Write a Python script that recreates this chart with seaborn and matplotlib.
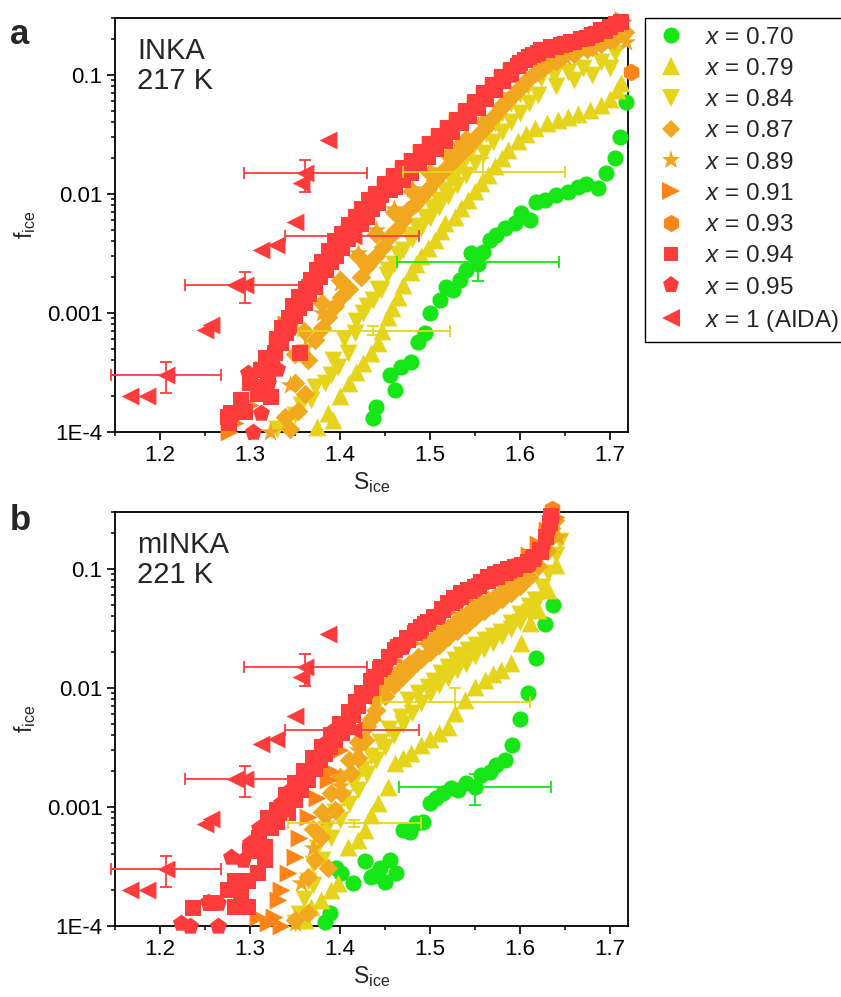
import numpy as np
import pandas as pd
import matplotlib
matplotlib.use("Agg")
import matplotlib.pyplot as plt
from matplotlib.lines import Line2D
from matplotlib.ticker import (LogLocator, MultipleLocator, FixedLocator,
                               FixedFormatter, NullFormatter)
import seaborn as sns

# ---------------------------------------------------------------- series
series = ["0.70", "0.79", "0.84", "0.87", "0.89", "0.91", "0.93", "0.94", "0.95", "1 (AIDA)"]

# ---------------------------------------------------------------- panel a (INKA, 217 K)
s70_a = [1.437, 1.440, 1.461, 1.456, 1.468, 1.479, 1.487, 1.494, 1.500, 1.511, 1.518, 1.526,
         1.533, 1.540, 1.546, 1.553, 1.559, 1.567, 1.573, 1.583, 1.594, 1.601, 1.611, 1.618,
         1.628, 1.640, 1.653, 1.664, 1.673, 1.687, 1.696, 1.706, 1.711, 1.718]
f70_a = [1.31e-4, 1.62e-4, 2.25e-4, 3.0e-4, 3.5e-4, 3.9e-4, 5.7e-4, 6.8e-4, 1.0e-3, 1.29e-3,
         1.65e-3, 1.56e-3, 1.9e-3, 2.3e-3, 3.2e-3, 2.6e-3, 3.25e-3, 4.1e-3, 4.5e-3, 5.2e-3,
         5.7e-3, 6.9e-3, 6.0e-3, 8.6e-3, 8.9e-3, 9.8e-3, 1.04e-2, 1.15e-2, 1.2e-2, 1.12e-2,
         1.5e-2, 2.0e-2, 3.0e-2, 5.9e-2]

s79_a = [1.375, 1.387, 1.392, 1.400, 1.410, 1.418, 1.426, 1.434, 1.442, 1.447, 1.453, 1.458,
         1.464, 1.470, 1.479, 1.484, 1.490, 1.498, 1.506, 1.512, 1.517, 1.528, 1.535, 1.542,
         1.550, 1.557, 1.565, 1.572, 1.580, 1.587, 1.598, 1.607, 1.617, 1.630, 1.642, 1.653,
         1.665, 1.678, 1.690, 1.700, 1.708, 1.712]
f79_a = [1.1e-4, 1.44e-4, 1.26e-4, 2.0e-4, 2.6e-4, 3.2e-4, 3.8e-4, 4.6e-4, 5.6e-4, 7.0e-4,
         9.2e-4, 1.1e-3, 1.37e-3, 1.7e-3, 2.2e-3, 2.6e-3, 3.0e-3, 3.5e-3, 4.1e-3, 4.9e-3,
         5.7e-3, 6.4e-3, 7.6e-3, 8.9e-3, 1.05e-2, 1.24e-2, 1.45e-2, 1.7e-2, 2.0e-2, 2.34e-2,
         2.8e-2, 3.2e-2, 3.6e-2, 3.9e-2, 4.2e-2, 4.4e-2, 4.7e-2, 5.1e-2, 5.6e-2, 6.3e-2,
         7.4e-2, 8.6e-2]

s84_a = [1.330, 1.340, 1.357, 1.368, 1.383, 1.390, 1.398, 1.409, 1.417, 1.426, 1.437, 1.446,
         1.453, 1.464, 1.476, 1.485, 1.494, 1.502, 1.509, 1.516, 1.523, 1.531, 1.539, 1.546,
         1.553, 1.562, 1.572, 1.580, 1.590, 1.600, 1.609, 1.623, 1.638, 1.653, 1.670, 1.690,
         1.706,
         1.350, 1.372, 1.392, 1.405, 1.418, 1.430, 1.442, 1.452, 1.460, 1.470, 1.480, 1.490,
         1.500, 1.510, 1.520, 1.530, 1.540, 1.550, 1.560, 1.570, 1.580, 1.590, 1.600, 1.610,
         1.620, 1.640, 1.660, 1.680, 1.700]
f84_a = [1.05e-4, 1.2e-4, 1.7e-4, 1.86e-4, 2.6e-4, 3.0e-4, 3.5e-4, 4.6e-4, 6.8e-4, 1.0e-3,
         1.29e-3, 1.56e-3, 2.3e-3, 3.1e-3, 4.5e-3, 5.4e-3, 6.4e-3, 7.6e-3, 8.9e-3, 1.08e-2,
         1.31e-2, 1.6e-2, 1.93e-2, 2.3e-2, 2.7e-2, 3.2e-2, 3.9e-2, 4.8e-2, 5.8e-2, 6.9e-2,
         8.0e-2, 9.4e-2, 1.0e-1, 1.05e-1, 1.15e-1, 1.28e-1, 1.53e-1,
         1.4e-4, 2.4e-4, 4.0e-4, 6.0e-4, 8.5e-4, 1.15e-3, 1.6e-3, 2.1e-3, 2.6e-3, 3.4e-3,
         4.2e-3, 5.2e-3, 6.3e-3, 7.7e-3, 9.5e-3, 1.18e-2, 1.45e-2, 1.8e-2, 2.2e-2, 2.7e-2,
         3.3e-2, 4.0e-2, 4.8e-2, 5.8e-2, 6.8e-2, 8.0e-2, 9.0e-2, 1.0e-1, 1.15e-1]

s87_a = [1.339, 1.345, 1.350, 1.353, 1.361, 1.364, 1.372, 1.380, 1.387, 1.395, 1.401, 1.410,
         1.423, 1.430, 1.440, 1.448, 1.455, 1.462, 1.470, 1.476, 1.483, 1.490, 1.498, 1.506,
         1.515, 1.523, 1.532, 1.542, 1.551, 1.561, 1.570, 1.579, 1.588, 1.598, 1.607, 1.617,
         1.624, 1.631, 1.646, 1.661, 1.675, 1.690, 1.705, 1.717,
         1.350, 1.360, 1.380, 1.400, 1.420, 1.440, 1.460, 1.480, 1.500, 1.520, 1.540, 1.560,
         1.580, 1.600, 1.620, 1.640, 1.660, 1.680, 1.700]
f87_a = [1.34e-4, 1.05e-4, 2.6e-4, 1.5e-4, 2.1e-4, 4.0e-4, 5.9e-4, 7.5e-4, 9.2e-4, 1.15e-3,
         1.37e-3, 1.6e-3, 2.0e-3, 2.5e-3, 3.0e-3, 3.6e-3, 4.3e-3, 5.0e-3, 6.0e-3, 7.3e-3,
         8.2e-3, 9.4e-3, 1.1e-2, 1.31e-2, 1.55e-2, 1.8e-2, 2.1e-2, 2.5e-2, 3.0e-2, 3.6e-2,
         4.4e-2, 5.3e-2, 6.3e-2, 7.5e-2, 8.9e-2, 1.04e-1, 1.13e-1, 1.22e-1, 1.38e-1, 1.53e-1,
         1.65e-1, 1.8e-1, 2.0e-1, 2.3e-1,
         4.5e-4, 7.0e-4, 1.2e-3, 1.9e-3, 3.0e-3, 4.6e-3, 7.0e-3, 1.05e-2, 1.5e-2, 2.1e-2,
         2.9e-2, 4.0e-2, 5.6e-2, 7.8e-2, 1.05e-1, 1.3e-1, 1.5e-1, 1.7e-1, 1.95e-1]

s89_a = [1.322, 1.345, 1.361, 1.380, 1.400, 1.420, 1.440, 1.460, 1.480, 1.500, 1.530, 1.560,
         1.590, 1.620, 1.650, 1.680, 1.700, 1.718]
f89_a = [1.0e-4, 2.5e-4, 5.2e-4, 1.0e-3, 1.8e-3, 3.2e-3, 5.0e-3, 7.5e-3, 1.1e-2, 1.6e-2,
         2.6e-2, 4.2e-2, 6.8e-2, 1.05e-1, 1.4e-1, 1.7e-1, 1.9e-1, 1.9e-1]

s91_a = [1.277, 1.283, 1.300, 1.315, 1.330, 1.340, 1.350, 1.360, 1.370, 1.380, 1.390, 1.400,
         1.410, 1.420, 1.430, 1.440, 1.450, 1.460, 1.470, 1.480, 1.490, 1.500, 1.510, 1.520,
         1.530, 1.540, 1.550, 1.560, 1.570, 1.580, 1.590, 1.600, 1.620, 1.640, 1.660, 1.680,
         1.700, 1.714]
f91_a = [1.0e-4, 1.2e-4, 1.7e-4, 3.4e-4, 5.5e-4, 8.0e-4, 1.0e-3, 1.3e-3, 1.8e-3, 2.3e-3,
         3.0e-3, 3.8e-3, 4.8e-3, 6.0e-3, 7.5e-3, 9.2e-3, 1.15e-2, 1.35e-2, 1.6e-2, 1.9e-2,
         2.2e-2, 2.6e-2, 3.0e-2, 3.5e-2, 4.1e-2, 4.8e-2, 5.6e-2, 6.6e-2, 7.8e-2, 9.0e-2,
         1.05e-1, 1.2e-1, 1.45e-1, 1.7e-1, 1.9e-1, 2.1e-1, 2.4e-1, 2.9e-1]

s93_a = [1.723]
f93_a = [0.105]

s94_a = [1.276, 1.277, 1.279, 1.290, 1.294, 1.309, 1.315, 1.320, 1.323, 1.325, 1.328, 1.334,
         1.340, 1.345, 1.350, 1.355, 1.356, 1.361, 1.366, 1.372, 1.378, 1.385, 1.390, 1.396,
         1.402, 1.409, 1.416, 1.423, 1.430, 1.436, 1.442, 1.446, 1.456, 1.461, 1.470, 1.479,
         1.488, 1.498, 1.507, 1.517, 1.525, 1.534, 1.543, 1.553, 1.562, 1.572, 1.581, 1.590,
         1.598, 1.606, 1.615, 1.623, 1.635, 1.646, 1.657, 1.668, 1.680, 1.690, 1.700, 1.707,
         1.712,
         1.300, 1.312, 1.318, 1.330, 1.336, 1.343, 1.348, 1.355, 1.362, 1.368, 1.374, 1.380,
         1.388, 1.395, 1.402, 1.410, 1.418, 1.425, 1.432, 1.440, 1.450, 1.460, 1.470, 1.480,
         1.490, 1.500, 1.510, 1.520, 1.530, 1.540, 1.550, 1.560, 1.570, 1.580, 1.590, 1.600,
         1.610, 1.620, 1.630, 1.640, 1.650, 1.660, 1.675, 1.685, 1.695]
f94_a = [1.34e-4, 1.2e-4, 1.44e-4, 1.86e-4, 1.47e-4, 2.1e-4, 2.4e-4, 3.0e-4, 1.96e-4, 3.6e-4,
         4.6e-4, 5.6e-4, 6.8e-4, 8.2e-4, 9.5e-4, 1.1e-3, 4.6e-4, 1.2e-3, 1.45e-3, 1.65e-3,
         2.0e-3, 2.3e-3, 2.7e-3, 3.0e-3, 3.5e-3, 4.2e-3, 4.8e-3, 5.6e-3, 6.4e-3, 7.4e-3,
         8.4e-3, 9.8e-3, 1.08e-2, 1.14e-2, 1.3e-2, 1.5e-2, 1.75e-2, 2.04e-2, 2.4e-2, 2.8e-2,
         3.3e-2, 3.9e-2, 4.5e-2, 5.3e-2, 6.2e-2, 7.5e-2, 8.8e-2, 1.04e-1, 1.18e-1, 1.34e-1,
         1.46e-1, 1.6e-1, 1.7e-1, 1.78e-1, 1.9e-1, 2.0e-1, 2.15e-1, 2.36e-1, 2.5e-1, 2.65e-1,
         2.79e-1,
         2.6e-4, 3.3e-4, 4.2e-4, 6.0e-4, 7.5e-4, 9.0e-4, 1.15e-3, 1.35e-3, 1.6e-3, 1.9e-3,
         2.3e-3, 2.7e-3, 3.3e-3, 4.0e-3, 4.6e-3, 5.5e-3, 6.4e-3, 7.5e-3, 8.8e-3, 1.0e-2,
         1.2e-2, 1.4e-2, 1.65e-2, 1.9e-2, 2.25e-2, 2.6e-2, 3.05e-2, 3.6e-2, 4.2e-2, 5.0e-2,
         5.9e-2, 7.0e-2, 8.2e-2, 9.6e-2, 1.1e-1, 1.25e-1, 1.4e-1, 1.52e-1, 1.62e-1, 1.7e-1,
         1.8e-1, 1.9e-1, 2.05e-1, 2.2e-1, 2.35e-1]

s95_a = [1.303, 1.312, 1.298, 1.320, 1.330, 1.345, 1.360, 1.375, 1.390, 1.410, 1.430, 1.450,
         1.470, 1.500, 1.530, 1.560, 1.590, 1.620, 1.650, 1.680, 1.700]
f95_a = [1.0e-4, 1.44e-4, 3.1e-4, 2.6e-4, 3.4e-4, 7.5e-4, 1.3e-3, 2.1e-3, 3.2e-3, 5.0e-3,
         7.8e-3, 1.15e-2, 1.6e-2, 2.5e-2, 4.0e-2, 6.5e-2, 1.0e-1, 1.5e-1, 1.85e-1, 2.2e-1,
         2.6e-1]

# AIDA chamber reference points (same in both panels)
s_aida = [1.387, 1.361, 1.357, 1.350, 1.329, 1.312, 1.414, 1.283, 1.294, 1.250, 1.257,
          1.207, 1.167, 1.186]
f_aida = [2.84e-2, 1.5e-2, 1.23e-2, 5.8e-3, 3.7e-3, 3.4e-3, 4.4e-3, 1.72e-3, 1.72e-3,
          7.2e-4, 7.9e-4, 3.0e-4, 2.0e-4, 2.0e-4]

# error bars: series, centre, x-range (lo, hi), y-range (lo, hi)
eb_series_a = ["0.70", "0.79", "0.84", "1 (AIDA)", "1 (AIDA)", "1 (AIDA)", "1 (AIDA)"]
eb_S_a = [1.553, 1.437, 1.559, 1.361, 1.414, 1.294, 1.207]
eb_f_a = [2.7e-3, 7.1e-4, 1.53e-2, 1.5e-2, 4.4e-3, 1.72e-3, 3.0e-4]
eb_dSlo_a = [0.090, 0.084, 0.089, 0.068, 0.075, 0.066, 0.061]
eb_dShi_a = [0.090, 0.085, 0.091, 0.069, 0.074, 0.064, 0.061]
eb_dflo_a = [8.4e-4, 6.0e-5, 4.5e-3, 4.6e-3, 3.0e-4, 5.1e-4, 8.7e-5]
eb_dfhi_a = [5.0e-4, 6.0e-5, 4.8e-3, 4.3e-3, 3.0e-4, 4.8e-4, 9.0e-5]

# ---------------------------------------------------------------- panel b (mINKA, 221 K)
s70_b = [1.383, 1.389, 1.396, 1.401, 1.414, 1.428, 1.434, 1.439, 1.444, 1.450, 1.456, 1.462,
         1.470, 1.478, 1.484, 1.492, 1.500, 1.507, 1.514, 1.523, 1.531, 1.540, 1.550, 1.557,
         1.567, 1.573, 1.583, 1.591, 1.600, 1.609, 1.618, 1.628, 1.637]
f70_b = [1.08e-4, 1.29e-4, 3.1e-4, 2.8e-4, 2.3e-4, 3.5e-4, 2.6e-4, 2.7e-4, 3.1e-4, 2.35e-4,
         3.6e-4, 2.8e-4, 6.4e-4, 6.1e-4, 7.3e-4, 7.5e-4, 1.08e-3, 1.2e-3, 1.31e-3, 1.44e-3,
         1.38e-3, 1.6e-3, 1.47e-3, 1.85e-3, 1.98e-3, 2.25e-3, 2.5e-3, 3.3e-3, 5.5e-3, 9.1e-3,
         1.78e-2, 3.46e-2, 4.98e-2]

s79_b = [1.361, 1.368, 1.379, 1.390, 1.398, 1.409, 1.420, 1.428, 1.434, 1.442, 1.453, 1.461,
         1.470, 1.479, 1.490, 1.500, 1.510, 1.520, 1.528, 1.539, 1.550, 1.561, 1.570, 1.579,
         1.590, 1.601, 1.611, 1.620, 1.631, 1.640]
f79_b = [1.12e-4, 1.44e-4, 1.65e-4, 2.0e-4, 2.3e-4, 4.6e-4, 5.3e-4, 6.4e-4, 8.5e-4, 1.08e-3,
         1.47e-3, 2.35e-3, 2.6e-3, 2.85e-3, 3.3e-3, 3.7e-3, 4.2e-3, 4.7e-3, 6.2e-3, 7.9e-3,
         1.01e-2, 1.17e-2, 1.3e-2, 1.41e-2, 1.62e-2, 2.39e-2, 3.51e-2, 4.53e-2, 6.67e-2, 1.08e-1]

s84_b = [1.350, 1.355, 1.360, 1.365, 1.370, 1.375, 1.385, 1.395, 1.405, 1.415, 1.425, 1.435,
         1.445, 1.455, 1.468, 1.476, 1.487, 1.498, 1.505, 1.512, 1.520, 1.528, 1.535, 1.542,
         1.551, 1.561, 1.570, 1.579, 1.590, 1.600, 1.610, 1.617, 1.625, 1.631, 1.640, 1.645,
         1.360, 1.370, 1.380, 1.390, 1.400, 1.410, 1.420, 1.430, 1.440, 1.450, 1.460, 1.470,
         1.480, 1.490, 1.500, 1.510, 1.520, 1.530, 1.540, 1.550, 1.560, 1.570, 1.580, 1.590,
         1.600, 1.610, 1.620]
f84_b = [1.05e-4, 1.25e-4, 1.7e-4, 2.4e-4, 3.3e-4, 4.5e-4, 6.5e-4, 9.0e-4, 1.2e-3, 1.6e-3,
         2.1e-3, 2.7e-3, 3.5e-3, 4.5e-3, 5.7e-3, 7.9e-3, 9.0e-3, 1.02e-2, 1.15e-2, 1.34e-2,
         1.5e-2, 1.72e-2, 1.9e-2, 2.09e-2, 2.3e-2, 2.51e-2, 2.75e-2, 2.96e-2, 3.5e-2, 4.2e-2,
         4.9e-2, 5.51e-2, 7.0e-2, 9.26e-2, 1.3e-1, 1.7e-1,
         1.1e-4, 2.2e-4, 3.6e-4, 5.5e-4, 7.8e-4, 1.05e-3, 1.4e-3, 1.9e-3, 2.5e-3, 3.2e-3,
         4.0e-3, 5.0e-3, 6.2e-3, 7.5e-3, 8.8e-3, 1.05e-2, 1.2e-2, 1.4e-2, 1.6e-2, 1.85e-2,
         2.1e-2, 2.4e-2, 2.7e-2, 3.1e-2, 3.6e-2, 4.3e-2, 5.5e-2]

s87_b = [1.350, 1.364, 1.364, 1.372, 1.387, 1.379, 1.394, 1.401, 1.412, 1.420, 1.428, 1.435,
         1.439, 1.446, 1.453, 1.460, 1.468, 1.477, 1.487, 1.498, 1.505, 1.512, 1.520, 1.528,
         1.535, 1.542, 1.550, 1.557, 1.565, 1.572, 1.580, 1.587, 1.594, 1.601, 1.607, 1.612,
         1.618, 1.623, 1.627, 1.631, 1.635, 1.639,
         1.370, 1.380, 1.390, 1.400, 1.410, 1.420, 1.430, 1.440, 1.450, 1.460, 1.470, 1.480,
         1.490, 1.500, 1.510, 1.520, 1.530, 1.540, 1.550, 1.560, 1.570, 1.580, 1.590, 1.600,
         1.610, 1.620, 1.630]
f87_b = [1.12e-4, 1.29e-4, 2.6e-4, 3.6e-4, 3.1e-4, 5.6e-4, 9.4e-4, 1.31e-3, 1.94e-3, 2.6e-3,
         3.66e-3, 5.5e-3, 7.9e-3, 9.0e-3, 1.1e-2, 1.25e-2, 1.41e-2, 1.6e-2, 1.83e-2, 2.39e-2,
         2.6e-2, 2.89e-2, 3.2e-2, 3.51e-2, 3.9e-2, 4.25e-2, 4.7e-2, 5.2e-2, 5.5e-2, 5.8e-2,
         6.4e-2, 7.1e-2, 7.8e-2, 8.6e-2, 9.8e-2, 1.13e-1, 1.28e-1, 1.45e-1, 1.65e-1, 1.86e-1,
         2.2e-1, 2.58e-1,
         6.5e-4, 9.0e-4, 1.3e-3, 1.8e-3, 2.5e-3, 3.5e-3, 4.8e-3, 6.5e-3, 8.5e-3, 1.05e-2,
         1.25e-2, 1.5e-2, 1.75e-2, 2.0e-2, 2.3e-2, 2.65e-2, 3.0e-2, 3.4e-2, 3.9e-2, 4.4e-2,
         5.0e-2, 5.6e-2, 6.3e-2, 7.2e-2, 8.5e-2, 1.05e-1, 1.4e-1]

s89_b = [1.350, 1.357, 1.370, 1.385, 1.400, 1.420, 1.440, 1.460, 1.480, 1.500, 1.520, 1.540,
         1.560, 1.580, 1.600, 1.620, 1.642]
f89_b = [1.05e-4, 2.3e-4, 4.5e-4, 8.0e-4, 1.5e-3, 3.0e-3, 6.0e-3, 1.1e-2, 1.6e-2, 2.3e-2,
         3.0e-2, 3.8e-2, 4.8e-2, 6.0e-2, 8.0e-2, 1.2e-1, 1.86e-1]

s91_b = [1.309, 1.320, 1.327, 1.331, 1.334, 1.335, 1.342, 1.350, 1.355, 1.364, 1.375, 1.387,
         1.390, 1.400, 1.410, 1.420, 1.430, 1.440, 1.460, 1.480, 1.500, 1.520, 1.540, 1.560,
         1.580, 1.600, 1.610, 1.620, 1.630, 1.640]
f91_b = [1.19e-4, 1.05e-4, 1.19e-4, 1.65e-4, 1.0e-4, 2.0e-4, 2.8e-4, 3.8e-4, 5.5e-4, 8.2e-4,
         1.2e-3, 1.69e-3, 2.0e-3, 3.0e-3, 4.5e-3, 6.5e-3, 8.5e-3, 1.1e-2, 1.7e-2, 2.4e-2,
         3.3e-2, 4.3e-2, 5.5e-2, 7.0e-2, 8.5e-2, 1.05e-1, 1.3e-1, 1.6e-1, 2.1e-1, 2.7e-1]

s93_b = [1.636]
f93_b = [0.32]

s94_b = [1.237, 1.257, 1.276, 1.283, 1.283, 1.290, 1.298, 1.298, 1.309, 1.317, 1.317, 1.323,
         1.330, 1.342, 1.350, 1.357, 1.364, 1.372, 1.378, 1.383, 1.389, 1.394, 1.402, 1.409,
         1.415, 1.420, 1.427, 1.434, 1.440, 1.446, 1.454, 1.461, 1.468, 1.476, 1.483, 1.490,
         1.498, 1.506, 1.513, 1.520, 1.527, 1.534, 1.542, 1.550, 1.557, 1.564, 1.572, 1.579,
         1.587, 1.594, 1.602, 1.609, 1.616, 1.623, 1.629, 1.633, 1.634,
         1.300, 1.310, 1.320, 1.330, 1.340, 1.350, 1.360, 1.370, 1.380, 1.390, 1.400, 1.410,
         1.418, 1.425, 1.435, 1.445, 1.455, 1.465, 1.475, 1.485, 1.495, 1.505, 1.515, 1.525,
         1.535, 1.545, 1.555, 1.565, 1.575, 1.585, 1.595, 1.605, 1.615, 1.622]
f94_b = [1.42e-4, 1.56e-4, 2.0e-4, 1.44e-4, 2.4e-4, 1.75e-4, 2.4e-4, 1.44e-4, 2.8e-4, 3.6e-4,
         4.6e-4, 6.6e-4, 7.5e-4, 8.9e-4, 1.14e-3, 1.4e-3, 1.69e-3, 2.1e-3, 2.5e-3, 2.8e-3,
         3.2e-3, 3.66e-3, 4.2e-3, 4.7e-3, 5.9e-3, 7.0e-3, 8.5e-3, 1.0e-2, 1.23e-2, 1.5e-2,
         1.8e-2, 2.09e-2, 2.3e-2, 2.5e-2, 2.9e-2, 3.26e-2, 3.6e-2, 3.96e-2, 4.6e-2, 5.2e-2,
         5.7e-2, 6.28e-2, 6.6e-2, 7.05e-2, 7.8e-2, 8.55e-2, 9.0e-2, 9.45e-2, 1.0e-1, 1.04e-1,
         1.08e-1, 1.14e-1, 1.25e-1, 1.37e-1, 1.86e-1, 2.4e-1, 2.8e-1,
         4.3e-4, 5.5e-4, 8.0e-4, 9.5e-4, 1.25e-3, 1.6e-3, 2.0e-3, 2.6e-3, 3.2e-3, 4.0e-3,
         5.0e-3, 6.3e-3, 7.6e-3, 9.0e-3, 1.15e-2, 1.45e-2, 1.8e-2, 2.2e-2, 2.6e-2, 3.0e-2,
         3.45e-2, 3.9e-2, 4.5e-2, 5.2e-2, 5.8e-2, 6.5e-2, 7.2e-2, 7.9e-2, 8.6e-2, 9.3e-2,
         1.0e-1, 1.08e-1, 1.2e-1, 1.45e-1]

s95_b = [1.223, 1.233, 1.253, 1.264, 1.264, 1.279, 1.292, 1.300, 1.310, 1.325, 1.334, 1.345,
         1.357, 1.370, 1.380, 1.395, 1.410, 1.430, 1.450, 1.470, 1.490, 1.510, 1.530, 1.550,
         1.570, 1.590, 1.610, 1.625, 1.632, 1.635]
f95_b = [1.05e-4, 1.0e-4, 1.6e-4, 1.56e-4, 1.0e-4, 3.8e-4, 3.6e-4, 5.0e-4, 6.6e-4, 8.0e-4,
         1.08e-3, 1.4e-3, 1.69e-3, 2.5e-3, 3.3e-3, 4.5e-3, 6.2e-3, 9.5e-3, 1.5e-2, 2.2e-2,
         3.0e-2, 4.0e-2, 5.4e-2, 6.8e-2, 8.2e-2, 9.5e-2, 1.1e-1, 1.5e-1, 2.2e-1, 2.6e-1]

eb_series_b = ["0.70", "0.79", "0.84", "1 (AIDA)", "1 (AIDA)", "1 (AIDA)", "1 (AIDA)"]
eb_S_b = [1.550, 1.416, 1.528, 1.361, 1.414, 1.294, 1.207]
eb_f_b = [1.47e-3, 7.3e-4, 7.6e-3, 1.5e-2, 4.4e-3, 1.72e-3, 3.0e-4]
eb_dSlo_b = [0.084, 0.074, 0.082, 0.068, 0.075, 0.066, 0.061]
eb_dShi_b = [0.084, 0.074, 0.083, 0.069, 0.074, 0.064, 0.061]
eb_dflo_b = [4.3e-4, 5.0e-5, 2.0e-3, 4.6e-3, 3.0e-4, 5.1e-4, 8.7e-5]
eb_dfhi_b = [4.3e-4, 5.0e-5, 2.4e-3, 4.3e-3, 3.0e-4, 4.8e-4, 9.0e-5]

# ---------------------------------------------------------------- styles
colors = {"0.70": "#16E616", "0.79": "#E6D41C", "0.84": "#E6D41C", "0.87": "#F2A81E",
          "0.89": "#F0A620", "0.91": "#FF8316", "0.93": "#FF861C", "0.94": "#FF3C3C",
          "0.95": "#FF3C3C", "1 (AIDA)": "#FF3C3C"}
markers = {"0.70": "o", "0.79": "^", "0.84": "v", "0.87": "D", "0.89": "*", "0.91": ">",
           "0.93": "h", "0.94": "s", "0.95": "p", "1 (AIDA)": "<"}
msize = {"0.70": 135, "0.79": 165, "0.84": 165, "0.87": 100, "0.89": 220, "0.91": 165,
         "0.93": 165, "0.94": 120, "0.95": 165, "1 (AIDA)": 165}
legend_ms = {"0.70": 11.5, "0.79": 12.5, "0.84": 12.5, "0.87": 9.5, "0.89": 14, "0.91": 12.5,
             "0.93": 12.5, "0.94": 10.5, "0.95": 12.5, "1 (AIDA)": 12.5}


def make_frame(pairs):
    parts = []
    for key, (s, f) in pairs.items():
        parts.append(pd.DataFrame({"S": s, "f": f, "x": key}))
    return pd.concat(parts, ignore_index=True)


df_a = make_frame({"0.70": (s70_a, f70_a), "0.79": (s79_a, f79_a), "0.84": (s84_a, f84_a),
                   "0.87": (s87_a, f87_a), "0.89": (s89_a, f89_a), "0.91": (s91_a, f91_a),
                   "0.93": (s93_a, f93_a), "0.94": (s94_a, f94_a), "0.95": (s95_a, f95_a),
                   "1 (AIDA)": (s_aida, f_aida)})
df_b = make_frame({"0.70": (s70_b, f70_b), "0.79": (s79_b, f79_b), "0.84": (s84_b, f84_b),
                   "0.87": (s87_b, f87_b), "0.89": (s89_b, f89_b), "0.91": (s91_b, f91_b),
                   "0.93": (s93_b, f93_b), "0.94": (s94_b, f94_b), "0.95": (s95_b, f95_b),
                   "1 (AIDA)": (s_aida, f_aida)})

err_a = pd.DataFrame({"x": eb_series_a, "S": eb_S_a, "f": eb_f_a, "sl": eb_dSlo_a,
                      "sh": eb_dShi_a, "fl": eb_dflo_a, "fh": eb_dfhi_a})
err_b = pd.DataFrame({"x": eb_series_b, "S": eb_S_b, "f": eb_f_b, "sl": eb_dSlo_b,
                      "sh": eb_dShi_b, "fl": eb_dflo_b, "fh": eb_dfhi_b})

# ---------------------------------------------------------------- figure
sns.set_style("ticks")
plt.rcParams.update({
    "font.family": ["Liberation Sans", "DejaVu Sans"],
    "mathtext.fontset": "custom",
    "mathtext.rm": "Liberation Sans",
    "mathtext.it": "Liberation Sans:italic",
    "mathtext.default": "regular",
    "axes.edgecolor": "black",
    "axes.linewidth": 1.3,
    "xtick.color": "black",
    "ytick.color": "black",
})

fig = plt.figure(figsize=(8.41, 9.97), dpi=100)
ax_a = fig.add_axes([0.1367, 0.5667, 0.6100, 0.4153])
ax_b = fig.add_axes([0.1367, 0.0712, 0.6100, 0.4153])


def draw_panel(ax, df, err, title):
    for key in series:
        sub = df[df["x"] == key]
        sns.scatterplot(data=sub, x="S", y="f", ax=ax, marker=markers[key],
                        color=colors[key], s=msize[key], linewidth=0, legend=False,
                        clip_on=False, zorder=3)
    for _, r in err.iterrows():
        cont = ax.errorbar(r["S"], r["f"], xerr=[[r["sl"]], [r["sh"]]],
                           yerr=[[r["fl"]], [r["fh"]]], fmt="none", ecolor=colors[r["x"]],
                           elinewidth=1.3, capsize=4, capthick=1.3, zorder=5)
        for art in cont.get_children():
            art.set_clip_on(False)

    ax.set_yscale("log")
    ax.set_xlim(1.15, 1.72)
    ax.set_ylim(1e-4, 0.3)
    ax.xaxis.set_major_locator(MultipleLocator(0.1))
    ax.xaxis.set_minor_locator(MultipleLocator(0.05))
    ax.yaxis.set_major_locator(FixedLocator([1e-4, 1e-3, 1e-2, 1e-1]))
    ax.yaxis.set_major_formatter(FixedFormatter(["1E-4", "0.001", "0.01", "0.1"]))
    ax.yaxis.set_minor_locator(LogLocator(base=10, subs=np.arange(2, 10), numticks=20))
    ax.yaxis.set_minor_formatter(NullFormatter())
    ax.tick_params(which="major", direction="out", length=6, width=1.2, labelsize=16,
                   pad=3, top=False, right=False)
    ax.tick_params(which="minor", direction="out", length=3.2, width=1.1,
                   top=False, right=False)
    for sp in ax.spines.values():
        sp.set_visible(True)
        sp.set_linewidth(1.3)
        sp.set_zorder(2.5)
    ax.set_xlabel(r"S$_{\mathrm{ice}}$", fontsize=16.5, labelpad=3)
    ax.set_ylabel(r"f$_{\mathrm{ice}}$", fontsize=16.5, labelpad=6)
    ax.text(0.043, 0.955, title, transform=ax.transAxes, ha="left", va="top",
            fontsize=21, linespacing=1.1)


draw_panel(ax_a, df_a, err_a, "INKA\n217 K")
draw_panel(ax_b, df_b, err_b, "mINKA\n221 K")

fig.text(0.012, 0.982, "a", fontsize=25, fontweight="bold", ha="left", va="top")
fig.text(0.012, 0.494, "b", fontsize=25, fontweight="bold", ha="left", va="top")

handles = [Line2D([], [], linestyle="None", marker=markers[k], color=colors[k],
                  markersize=legend_ms[k], markeredgewidth=0) for k in series]
labels = [r"$\mathit{x}$ = " + k for k in series]
fig.legend(handles, labels, loc="upper left", bbox_to_anchor=(645 / 841, 1 - 18 / 997),
           bbox_transform=fig.transFigure, frameon=True, fancybox=False, framealpha=1,
           edgecolor="black", fontsize=17.5, borderaxespad=0, borderpad=0.35,
           handlelength=1.4, handletextpad=0.7, labelspacing=0.38)
fig.legends[0].get_frame().set_linewidth(1.0)

fig.savefig("out.png", dpi=100, facecolor="white")
